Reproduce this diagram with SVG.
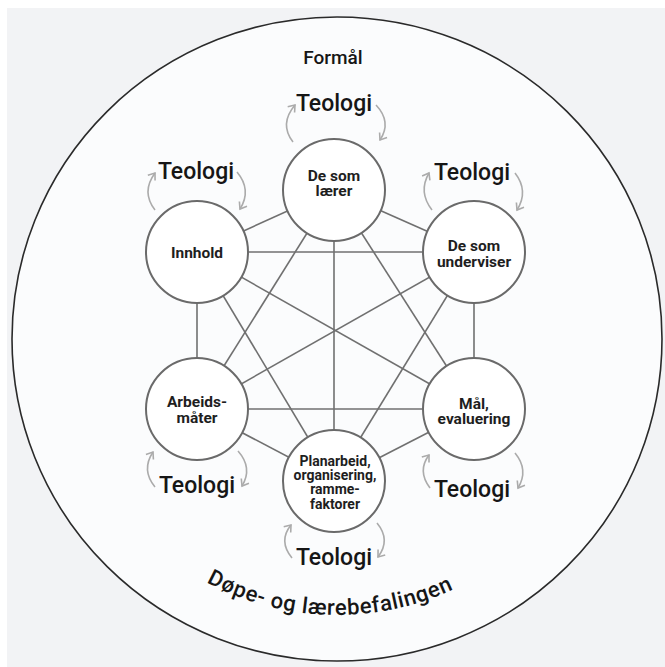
<svg xmlns="http://www.w3.org/2000/svg" width="665" height="667" viewBox="0 0 665 667">
<style>
.edge{stroke:#707070;stroke-width:1.6;fill:none}
.node{fill:#ffffff;stroke:#6a6a6a;stroke-width:2}
.lbl{font-family:Roboto,"Liberation Sans",sans-serif;font-weight:700;font-size:15.5px;fill:#1e1e1e;text-anchor:middle}
.small{font-size:14px}
.teo{font-family:Roboto,"Liberation Sans",sans-serif;font-weight:500;font-size:23px;fill:#161616;text-anchor:middle}
.arr{stroke:#ababab;stroke-width:1.6;fill:none;marker-end:url(#ah)}
</style>
<defs>
<marker id="ah" markerUnits="userSpaceOnUse" markerWidth="12" markerHeight="12" viewBox="-7 -6 9 12" refX="0" refY="0" orient="auto">
<path d="M-6,-4.5 L0,0 L-6,4.5" fill="none" stroke="#ababab" stroke-width="1.6"/>
</marker>
<path id="arc" d="M153.5,545.2 A276,276 0 0 0 508.3,555.4"/>
</defs>
<rect x="0" y="0" width="665" height="667" fill="#ffffff"/>
<rect x="7" y="8" width="658" height="659" fill="#f2f3f5"/>
<ellipse cx="337" cy="339" rx="325" ry="322" fill="#fbfcfd" stroke="#2a2a2a" stroke-width="1.6"/>
<text x="333" y="64" font-family="Roboto,'Liberation Sans',sans-serif" font-weight="500" font-size="19" fill="#161616" text-anchor="middle">Formål</text>
<text font-family="Roboto,'Liberation Sans',sans-serif" font-weight="500" font-size="22" fill="#161616" text-anchor="middle"><textPath href="#arc" startOffset="50%" textLength="256" lengthAdjust="spacing">Døpe- og lærebefalingen</textPath></text>
<g id="connectors">
<line class="edge" x1="334" y1="190" x2="474" y2="252"/>
<line class="edge" x1="334" y1="190" x2="474" y2="409"/>
<line class="edge" x1="334" y1="190" x2="334" y2="481"/>
<line class="edge" x1="334" y1="190" x2="197" y2="409"/>
<line class="edge" x1="334" y1="190" x2="197" y2="252"/>
<line class="edge" x1="474" y1="252" x2="474" y2="409"/>
<line class="edge" x1="474" y1="252" x2="334" y2="481"/>
<line class="edge" x1="474" y1="252" x2="197" y2="409"/>
<line class="edge" x1="474" y1="252" x2="197" y2="252"/>
<line class="edge" x1="474" y1="409" x2="334" y2="481"/>
<line class="edge" x1="474" y1="409" x2="197" y2="409"/>
<line class="edge" x1="474" y1="409" x2="197" y2="252"/>
<line class="edge" x1="334" y1="481" x2="197" y2="409"/>
<line class="edge" x1="334" y1="481" x2="197" y2="252"/>
<line class="edge" x1="197" y1="409" x2="197" y2="252"/>
</g>
<g id="n-de-som-laerer">
<circle class="node" cx="334" cy="190" r="51"/>
<text class="lbl" x="334" y="181">De som</text>
<text class="lbl" x="334" y="196">lærer</text>
<text class="teo" x="334" y="111">Teologi</text>
<path class="arr" d="M293,142 Q279,124 295,105"/>
<path class="arr" d="M376,105 Q392,122 380,140"/>
</g>
<g id="n-de-som-underviser">
<circle class="node" cx="474" cy="252" r="51"/>
<text class="lbl" x="474" y="251">De som</text>
<text class="lbl" x="474" y="267">underviser</text>
<text class="teo" x="472" y="180">Teologi</text>
<path class="arr" d="M432,210 Q418,192 429,173"/>
<path class="arr" d="M515,173 Q529,191 517,210"/>
</g>
<g id="n-maal">
<circle class="node" cx="474" cy="409" r="51"/>
<text class="lbl" x="474" y="409">Mål,</text>
<text class="lbl" x="474" y="424">evaluering</text>
<text class="teo" x="472" y="497">Teologi</text>
<path class="arr" d="M430,488 Q417,471 429,455"/>
<path class="arr" d="M515,453 Q529,470 518,488"/>
</g>
<g id="n-planarbeid">
<circle class="node" cx="334" cy="481" r="51"/>
<text class="lbl small" x="335" y="466">Planarbeid,</text>
<text class="lbl small" x="335" y="480">organisering,</text>
<text class="lbl small" x="335" y="494">ramme-</text>
<text class="lbl small" x="335" y="509">faktorer</text>
<text class="teo" x="334" y="565">Teologi</text>
<path class="arr" d="M292,558 Q278,541 291,525"/>
<path class="arr" d="M377,523 Q391,540 378,557"/>
</g>
<g id="n-arbeidsmaater">
<circle class="node" cx="197" cy="409" r="51"/>
<text class="lbl" x="197" y="407">Arbeids-</text>
<text class="lbl" x="197" y="423">måter</text>
<text class="teo" x="197" y="493">Teologi</text>
<path class="arr" d="M155,487 Q141,470 153,452"/>
<path class="arr" d="M238,451 Q253,468 242,486"/>
</g>
<g id="n-innhold">
<circle class="node" cx="197" cy="252" r="51"/>
<text class="lbl" x="197" y="258">Innhold</text>
<text class="teo" x="196" y="179">Teologi</text>
<path class="arr" d="M155,210 Q141,192 155,173"/>
<path class="arr" d="M237,172 Q252,190 240,209"/>
</g>
</svg>
